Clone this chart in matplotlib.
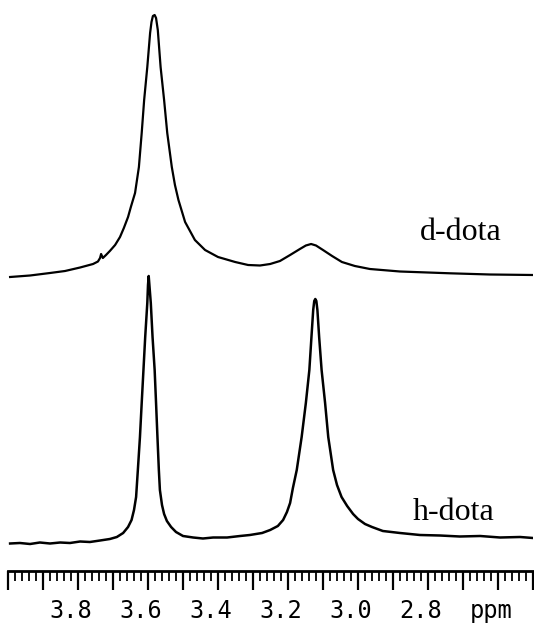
import numpy as np
import matplotlib
matplotlib.use('Agg')
import matplotlib.pyplot as plt
import matplotlib.transforms as mtransforms
from matplotlib.ticker import MultipleLocator, FixedLocator, FixedFormatter

# chemical shift (ppm) and intensity, d-dota (upper trace)
d_ppm = [3.994, 3.937, 3.880, 3.837, 3.794, 3.757, 3.743, 3.737, 3.734, 3.729,
         3.720, 3.709, 3.694, 3.680, 3.669, 3.657, 3.649, 3.637, 3.626, 3.618,
         3.611, 3.602, 3.594, 3.590, 3.586, 3.581, 3.577, 3.572, 3.564, 3.554,
         3.545, 3.532, 3.523, 3.513, 3.494, 3.466, 3.437, 3.400, 3.351, 3.314,
         3.280, 3.251, 3.223, 3.194, 3.166, 3.149, 3.134, 3.120, 3.100, 3.074,
         3.046, 3.009, 2.966, 2.880, 2.737, 2.623, 2.500]
d_int = [-2, -0.5, 2, 4, 7.5, 11, 13.5, 17, 21, 17,
         20, 24, 30, 38, 47, 58, 68, 82, 108, 142,
         175, 208, 242, 253, 259, 260, 257, 245, 208, 175,
         142, 108, 90, 75, 53, 35, 25, 18, 13, 10,
         9.5, 11, 14, 20, 26, 29.5, 31, 29.5, 25, 19,
         13, 9, 6, 3.5, 1.7, 0.5, 0]

# h-dota (lower trace)
h_ppm = [3.994, 3.966, 3.937, 3.909, 3.880, 3.851, 3.823, 3.794, 3.766, 3.737,
         3.709, 3.689, 3.671, 3.657, 3.647, 3.640, 3.634, 3.629, 3.623, 3.618,
         3.613, 3.608, 3.602, 3.600, 3.598, 3.596, 3.592, 3.587, 3.581, 3.577,
         3.573, 3.569, 3.566, 3.560, 3.554, 3.546, 3.534, 3.520, 3.500, 3.471,
         3.443, 3.414, 3.374, 3.337, 3.309, 3.274, 3.251, 3.229, 3.214, 3.203,
         3.194, 3.186, 3.175, 3.161, 3.149, 3.139, 3.133, 3.128, 3.125, 3.122,
         3.119, 3.116, 3.111, 3.104, 3.094, 3.085, 3.071, 3.060, 3.047, 3.031,
         3.014, 3.000, 2.980, 2.960, 2.929, 2.880, 2.823, 2.766, 2.709, 2.651,
         2.594, 2.537, 2.500]
h_int = [-2.5, -2, -3, -1.5, -2.5, -1.5, -2, -0.5, -1, 0.5,
         2, 4, 8, 14, 21, 31, 44, 71, 104, 138,
         171, 204, 238, 256, 265, 256, 238, 204, 171, 138,
         104, 71, 51, 36, 27, 20, 14, 9, 5, 3.5,
         2.5, 3.5, 3.5, 5, 6, 8, 11, 15, 21, 29,
         38, 53, 71, 104, 138, 171, 204, 231, 240, 242,
         240, 231, 204, 171, 138, 104, 71, 56, 44, 35,
         27, 22, 17, 14, 10, 8, 6, 5.5, 4.5, 5,
         3.5, 4, 3]

trace_offset = 266

major_ticks = [3.8, 3.6, 3.4, 3.2, 3.0, 2.8, 2.6]
major_labels = ['3.8', '3.6', '3.4', '3.2', '3.0', '2.8', 'ppm']

fig = plt.figure(figsize=(5.34, 6.24), dpi=100)
ax = fig.add_axes([8 / 534, 53 / 624, 525 / 534, 566 / 624])

ax.plot(d_ppm, np.array(d_int) + trace_offset, color='black', lw=1.6)
ax.plot(h_ppm, h_int, color='black', lw=1.8)

ax.set_xlim(4.0, 2.5)
ax.set_ylim(-30, 536)

ax.text(2.823, 309, 'd-dota', fontsize=23, family='Liberation Serif', va='center', ha='left')
ax.text(2.843, 29, 'h-dota', fontsize=23, family='Liberation Serif', va='center', ha='left')

for s in ['top', 'left', 'right']:
    ax.spines[s].set_visible(False)
ax.spines['bottom'].set_linewidth(2)
ax.set_yticks([])

ax.xaxis.set_major_locator(MultipleLocator(0.1))
ax.xaxis.set_minor_locator(MultipleLocator(0.02))
ax.tick_params(axis='x', which='major', length=14, width=1.6, labelbottom=False)
ax.tick_params(axis='x', which='minor', length=7, width=1.3)

# labels every 0.2 ppm, drawn on a secondary axis so the 0.1 ticks stay unlabeled
lab = ax.secondary_xaxis('bottom')
lab.xaxis.set_major_locator(FixedLocator(major_ticks))
lab.xaxis.set_major_formatter(FixedFormatter(major_labels))
lab.spines['bottom'].set_visible(False)
lab.tick_params(length=0, pad=20, labelsize=17)
shift = mtransforms.ScaledTranslation(-7 / 100, 0, fig.dpi_scale_trans)  # printed labels sit a bit left
for t in lab.get_xticklabels():
    t.set_family('DejaVu Sans Mono')
    t.set_transform(t.get_transform() + shift)

fig.savefig('out.png', dpi=100)
